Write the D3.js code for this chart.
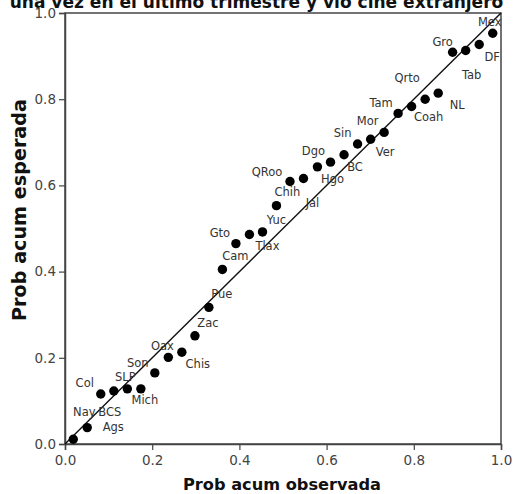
<!DOCTYPE html>
<html>
<head>
<meta charset="UTF-8">
<title>Prob acum</title>
<script src="https://cdn.jsdelivr.net/npm/d3@7"></script>
<style>
  body { margin: 0; background: #fff; }
  svg { display: block; }
</style>
</head>
<body>
<div id="chart"></div>
<script>
// states in order of observed cumulative prob
var states = ["Nay","Ags","Col","BCS","SLP","Mich","Son","Oax","Chis","Zac","Pue",
              "Cam","Gto","Tlax","Yuc","Chih","QRoo","Jal","Dgo","Hgo","BC","Sin",
              "Mor","Ver","Tam","Coah","Qrto","NL","Gro","Tab","DF","Mex"];
var observed = [0.019,0.051,0.082,0.112,0.143,0.174,0.206,0.237,0.268,0.298,0.330,
                0.361,0.392,0.423,0.453,0.485,0.516,0.547,0.579,0.609,0.640,0.671,
                0.701,0.732,0.764,0.795,0.826,0.856,0.889,0.919,0.950,0.981];
var expected = [0.011,0.038,0.116,0.123,0.128,0.128,0.165,0.201,0.213,0.251,0.317,
                0.405,0.465,0.486,0.492,0.553,0.609,0.616,0.643,0.654,0.671,0.696,
                0.707,0.723,0.767,0.783,0.800,0.814,0.909,0.913,0.927,0.953];
var ticks = [0, 0.2, 0.4, 0.6, 0.8, 1.0];

// where each label sits relative to its dot (px)
var labelShift = [[11,-27],[26,-1],[-16,-11],[-4,21],[-2,-12],[4,11],[-17,-10],[-6,-11],
                  [16,12],[13,-13],[13,-13],[13,-13],[-16,-11],[18,11],[14,-12],[11,-14],
                  [-23,-10],[9,24],[-4,-16],[2,17],[11,12],[-15,-11],[-3,-18],[1,20],
                  [-17,-10],[17,10],[-18,-21],[19,12],[-10,-10],[6,24],[13,13],[-3,-11]];

var W = 513, H = 494;
var plotL = 65, plotR = 501, plotT = 13, plotB = 444;

var svg = d3.select("#chart").append("svg")
    .attr("width", W)
    .attr("height", H);

var x = d3.scaleLinear().domain([0, 1]).range([plotL, plotR]);
var y = d3.scaleLinear().domain([0, 1]).range([plotB, plotT]);

// title, cut at top like the original
var title = svg.append("text")
    .attr("x", W / 2)
    .attr("y", 8)
    .attr("text-anchor", "middle")
    .attr("font-family", "DejaVu Sans")
    .attr("font-weight", "bold")
    .attr("font-size", 16)
    .attr("fill", "#111")
    .text("una vez en el último trimestre y vio cine extranjero");
fitWidth(title, 494);

// frame
svg.append("rect")
    .attr("x", plotL)
    .attr("y", plotT)
    .attr("width", plotR - plotL)
    .attr("height", plotB - plotT)
    .attr("fill", "none")
    .attr("stroke", "#444")
    .attr("stroke-width", 1.5);

var xAxis = svg.append("g")
    .attr("transform", "translate(0," + plotB + ")")
    .call(d3.axisBottom(x).tickValues(ticks).tickFormat(d3.format(".1f")).tickSize(6).tickPadding(5));
var yAxis = svg.append("g")
    .attr("transform", "translate(" + plotL + ",0)")
    .call(d3.axisLeft(y).tickValues(ticks).tickFormat(d3.format(".1f")).tickSize(6).tickPadding(3));

[xAxis, yAxis].forEach(function(a) {
  a.select(".domain").attr("stroke", "#444").attr("stroke-width", 1.5);
  a.selectAll(".tick line").attr("stroke", "#444").attr("stroke-width", 1.2);
  a.selectAll(".tick text")
    .attr("font-family", "DejaVu Sans")
    .attr("font-size", 13.5)
    .attr("fill", "#444");
});

// reference line
svg.append("line")
    .attr("x1", x(0)).attr("y1", y(0))
    .attr("x2", x(1)).attr("y2", y(1))
    .attr("stroke", "#111")
    .attr("stroke-width", 1.4);

var pts = states.map(function(s, i) {
  return { name: s, o: observed[i], e: expected[i], d: labelShift[i] };
});

svg.append("g").selectAll("circle")
    .data(pts)
    .enter().append("circle")
    .attr("cx", function(d) { return x(d.o); })
    .attr("cy", function(d) { return y(d.e); })
    .attr("r", 4.7)
    .attr("fill", "#000");

svg.append("g").selectAll("text")
    .data(pts)
    .enter().append("text")
    .attr("x", function(d) { return x(d.o) + d.d[0]; })
    .attr("y", function(d) { return y(d.e) + d.d[1]; })
    .attr("dy", "0.35em")
    .attr("text-anchor", "middle")
    .attr("font-family", "DejaVu Sans")
    .attr("font-size", 11.5)
    .attr("fill", "#333")
    .text(function(d) { return d.name; });

// axis titles
var xt = svg.append("text")
    .attr("x", 282)
    .attr("y", 490)
    .attr("text-anchor", "middle")
    .attr("font-family", "DejaVu Sans")
    .attr("font-weight", "bold")
    .attr("font-size", 16)
    .attr("fill", "#111")
    .text("Prob acum observada");
fitWidth(xt, 198);

var yt = svg.append("text")
    .attr("transform", "translate(26,210) rotate(-90)")
    .attr("text-anchor", "middle")
    .attr("font-family", "DejaVu Sans")
    .attr("font-weight", "bold")
    .attr("font-size", 16)
    .attr("fill", "#111")
    .text("Prob acum esperada");
fitWidth(yt, 222);

function fitWidth(sel, target) {
  var fs = +sel.attr("font-size");
  var w = sel.node().getComputedTextLength();
  if (w > 0) sel.attr("font-size", (fs * target / w).toFixed(2));
}
</script>
</body>
</html>
